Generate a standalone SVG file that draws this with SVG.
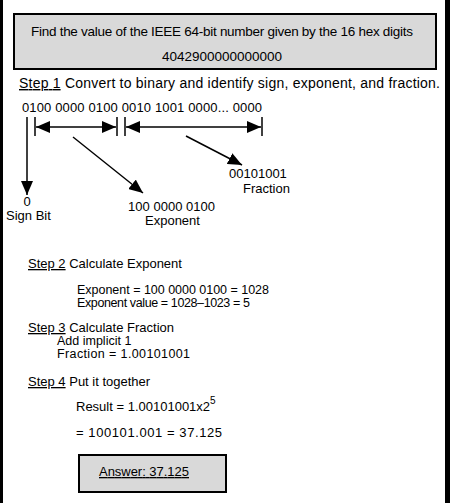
<svg xmlns="http://www.w3.org/2000/svg" width="450" height="503" viewBox="0 0 450 503">
<defs>
<marker id="ah" markerUnits="userSpaceOnUse" markerWidth="16" markerHeight="12" refX="14" refY="6" orient="auto-start-reverse">
<path d="M0,0 L14,6 L0,12 Z" fill="#000"/>
</marker>
</defs>
<style>
text{font-family:"Liberation Sans",Arial,sans-serif;font-size:13px;fill:#000}
.s{font-size:12.5px}
.box{fill:#d9d9d9;stroke:#000;stroke-width:2}
.ln{stroke:#000;stroke-width:1.5;fill:none}
.u{text-decoration:underline}
</style>
<rect width="450" height="503" fill="#fff"/>
<rect x="0" y="0" width="3" height="503" fill="#000"/>
<rect x="445" y="0" width="5" height="503" fill="#000"/>
<g id="title">
<rect class="box" x="14" y="14" width="422" height="55"/>
<text x="222" y="36" text-anchor="middle" textLength="382" style="font-size:13.5px">Find the value of the IEEE 64-bit number given by the 16 hex digits</text>
<text x="222" y="61" text-anchor="middle" style="font-size:13.5px">4042900000000000</text>
</g>
<g id="step1">
<text x="19" y="88" style="font-size:14px" textLength="421"><tspan class="u">Step 1</tspan> Convert to binary and identify sign, exponent, and fraction.</text>
<text x="22" y="112" textLength="240">0100 0000 0100 0010 1001 0000... 0000</text>
</g>
<g id="connectors">
<line class="ln" x1="35" y1="117" x2="35" y2="136"/>
<line class="ln" x1="117" y1="117" x2="117" y2="136"/>
<line class="ln" x1="125" y1="117" x2="125" y2="136"/>
<line class="ln" x1="262" y1="117" x2="262" y2="136"/>
<line class="ln" x1="36" y1="127" x2="116" y2="127" marker-start="url(#ah)" marker-end="url(#ah)"/>
<line class="ln" x1="126" y1="127" x2="261" y2="127" marker-start="url(#ah)" marker-end="url(#ah)"/>
<line class="ln" x1="27" y1="117" x2="27" y2="195" marker-end="url(#ah)"/>
<line class="ln" x1="73" y1="137" x2="143" y2="193" marker-end="url(#ah)"/>
<line class="ln" x1="186" y1="136" x2="242" y2="165" marker-end="url(#ah)"/>
</g>
<g id="sign">
<text x="27" y="206" text-anchor="middle">0</text>
<text x="6" y="220">Sign Bit</text>
</g>
<g id="exponent">
<text x="128" y="211" textLength="87">100 0000 0100</text>
<text x="145" y="225">Exponent</text>
</g>
<g id="fraction">
<text x="229" y="178">00101001</text>
<text x="243" y="193">Fraction</text>
</g>
<g id="step2">
<text x="28" y="268"><tspan class="u">Step 2</tspan> Calculate Exponent</text>
<text class="s" x="77" y="294" textLength="192">Exponent = 100 0000 0100 = 1028</text>
<text class="s" x="77" y="307" textLength="173">Exponent value = 1028–1023 = 5</text>
</g>
<g id="step3">
<text x="28" y="332"><tspan class="u">Step 3</tspan> Calculate Fraction</text>
<text class="s" x="57" y="345">Add implicit 1</text>
<text class="s" x="57" y="358" textLength="133">Fraction = 1.00101001</text>
</g>
<g id="step4">
<text x="28" y="386"><tspan class="u">Step 4</tspan> Put it together</text>
<text x="76" y="411">Result =  1.00101001x2<tspan dy="-7" style="font-size:10px">5</tspan></text>
<text x="76" y="437" textLength="146">=  100101.001  =  37.125</text>
</g>
<g id="answer">
<rect class="box" x="79" y="455" width="147" height="37"/>
<text x="99" y="476" textLength="90" class="u">Answer: 37.125</text>
</g>
</svg>
